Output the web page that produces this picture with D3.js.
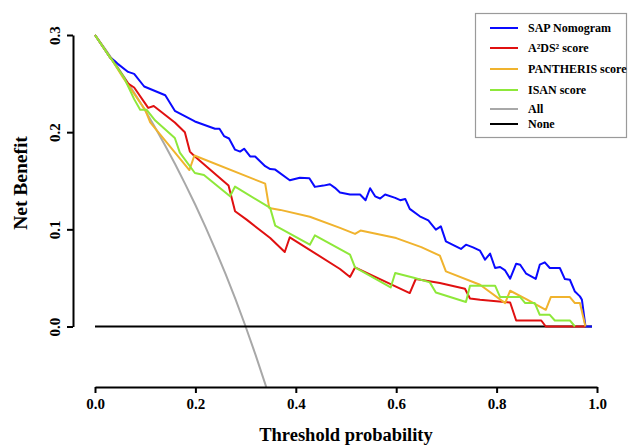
<!DOCTYPE html>
<html>
<head>
<meta charset="utf-8">
<script src="https://cdn.jsdelivr.net/npm/d3@7"></script>
<style>
html,body{margin:0;padding:0;background:#fff;}
svg{display:block;}
svg text{font-family:"Liberation Serif","Times New Roman",serif;font-weight:bold;}
</style>
</head>
<body>
<svg id="chart" width="636" height="445"></svg>
<script>
// ---- data ----
const seriesNames = ["SAP Nomogram", "A²DS² score", "PANTHERIS score", "ISAN score", "All", "None"];
const seriesColors = ["#0a0aff", "#e01010", "#f0b32e", "#8ee83a", "#a8a8a8", "#000000"];

const sapT  = [0,0.03,0.04,0.046,0.066,0.078,0.098,0.14,0.159,0.199,0.239,0.248,0.257,0.267,0.279,0.289,0.297,0.309,0.319,0.339,0.349,0.359,0.388,0.408,0.427,0.438,0.455,0.468,0.478,0.488,0.508,0.528,0.539,0.548,0.558,0.568,0.578,0.598,0.608,0.618,0.627,0.647,0.664,0.679,0.689,0.699,0.729,0.739,0.753,0.767,0.777,0.787,0.797,0.807,0.817,0.827,0.839,0.847,0.859,0.878,0.886,0.896,0.906,0.926,0.936,0.946,0.956,0.966,0.97,0.977,0.99];
const sapNB = [0.3,0.277,0.273,0.270,0.262,0.26,0.247,0.238,0.222,0.211,0.2035,0.2035,0.196,0.1935,0.182,0.180,0.183,0.175,0.175,0.165,0.162,0.1615,0.1505,0.153,0.1526,0.1437,0.145,0.1464,0.1427,0.138,0.1358,0.1358,0.130,0.1423,0.134,0.1317,0.1358,0.1324,0.130,0.1313,0.121,0.1134,0.1093,0.0997,0.103,0.0876,0.0798,0.0842,0.0814,0.078,0.0688,0.075,0.0602,0.0612,0.0577,0.0492,0.0646,0.0636,0.0543,0.049,0.0636,0.066,0.0602,0.0602,0.0488,0.0481,0.036,0.031,0.0275,0,0];

const a2dsT  = [0,0.03,0.033,0.066,0.078,0.106,0.117,0.159,0.179,0.189,0.199,0.266,0.279,0.302,0.349,0.378,0.388,0.488,0.508,0.518,0.627,0.639,0.687,0.737,0.747,0.767,0.827,0.839,0.889,0.898,0.977];
const a2dsNB = [0.3,0.277,0.275,0.25,0.246,0.225,0.227,0.21,0.2,0.18,0.175,0.145,0.1186,0.11,0.091,0.0767,0.0918,0.0592,0.051,0.0608,0.0344,0.0489,0.0447,0.0389,0.0289,0.0275,0.0247,0.0062,0.0062,0,0];

const panT  = [0,0.03,0.033,0.056,0.1,0.11,0.188,0.198,0.339,0.347,0.369,0.428,0.488,0.518,0.529,0.6,0.65,0.687,0.699,0.767,0.817,0.827,0.86,0.898,0.908,0.946,0.956,0.966,0.977];
const panNB = [0.3,0.277,0.275,0.256,0.223,0.21,0.161,0.176,0.147,0.122,0.12,0.113,0.1015,0.0953,0.0987,0.091,0.0817,0.0729,0.0567,0.043,0.0241,0.0368,0.028,0.0172,0.0303,0.0303,0.0241,0.0241,0];

const isanT  = [0,0.03,0.033,0.058,0.078,0.09,0.103,0.12,0.159,0.169,0.199,0.217,0.269,0.279,0.349,0.359,0.428,0.438,0.508,0.518,0.589,0.598,0.637,0.667,0.679,0.739,0.747,0.797,0.807,0.847,0.857,0.876,0.886,0.906,0.916,0.946,0.956];
const isanNB = [0.3,0.277,0.275,0.256,0.234,0.223,0.223,0.212,0.194,0.179,0.158,0.156,0.134,0.144,0.122,0.1038,0.0842,0.0938,0.0739,0.0608,0.0402,0.055,0.0499,0.0454,0.035,0.0252,0.042,0.042,0.0303,0.0303,0.0241,0.0241,0.012,0.012,0.0062,0.0062,0];

const allT  = [0,0.02,0.04,0.06,0.08,0.10,0.12,0.14,0.16,0.18,0.20,0.22,0.24,0.26,0.28,0.30,0.32,0.34,0.35];
const allNB = [0.3,0.2857,0.2708,0.2553,0.2391,0.2222,0.2045,0.1860,0.1667,0.1463,0.125,0.1026,0.0789,0.0541,0.0278,0,-0.0294,-0.0606,-0.0769];

const noneT  = [0,0.99];
const noneNB = [0,0];

const xTicks = [0,0.2,0.4,0.6,0.8,1.0];
const yTicks = [0,0.1,0.2,0.3];

// ---- drawing ----
const FONT = "Liberation Serif";
const svg = d3.select("#chart");
const x = d3.scaleLinear().domain([0,1]).range([95,597]);
const y = d3.scaleLinear().domain([0,0.3]).range([326.5,35]);

svg.append("defs").append("clipPath").attr("id","plotclip")
  .append("rect").attr("x",75).attr("y",20).attr("width",545).attr("height",367);

const line = d3.line().x(d=>x(d[0])).y(d=>y(d[1]));
const zip = (a,b)=>a.map((v,i)=>[v,b[i]]);

const drawOrder = [
  [allT, allNB, 4],
  [noneT, noneNB, 5],
  [sapT, sapNB, 0],
  [a2dsT, a2dsNB, 1],
  [panT, panNB, 2],
  [isanT, isanNB, 3]
];
const g = svg.append("g").attr("clip-path","url(#plotclip)");
drawOrder.forEach(([t,nb,ci])=>{
  g.append("path").datum(zip(t,nb))
    .attr("d", line)
    .attr("fill","none")
    .attr("stroke", seriesColors[ci])
    .attr("stroke-width", 2)
    .attr("stroke-linejoin","round");
});

// x axis
const xAxis = svg.append("g").attr("transform","translate(0,387)")
  .call(d3.axisBottom(x).tickValues(xTicks).tickFormat(d3.format(".1f")).tickSize(6).tickSizeOuter(0));
xAxis.attr("font-family",FONT);
xAxis.selectAll("path,line").attr("stroke","#000").attr("stroke-width",2);
xAxis.selectAll("text").attr("font-family",FONT).attr("font-weight","bold")
  .attr("font-size",15).attr("fill","#000").attr("y",11).attr("dy","0.71em");

// y axis
const yAxis = svg.append("g").attr("transform","translate(73,0)")
  .call(d3.axisLeft(y).tickValues(yTicks).tickFormat(d3.format(".1f")).tickSize(6).tickSizeOuter(0));
yAxis.attr("font-family",FONT);
yAxis.selectAll("path,line").attr("stroke","#000").attr("stroke-width",2);
yAxis.selectAll("text").attr("font-family",FONT).attr("font-weight","bold")
  .attr("font-size",15).attr("fill","#000")
  .attr("x",null).attr("dy",null).attr("y",0)
  .attr("text-anchor","middle")
  .attr("transform","translate(-13,0) rotate(-90)");

// axis titles
svg.append("text").attr("x",346).attr("y",441).attr("text-anchor","middle")
  .attr("font-family",FONT).attr("font-weight","bold")
  .attr("font-size",18.5).text("Threshold probability");
svg.append("text").attr("transform","translate(27,183) rotate(-90)").attr("text-anchor","middle")
  .attr("font-family",FONT).attr("font-weight","bold")
  .attr("font-size",19.5).text("Net Benefit");

// legend
const leg = svg.append("g");
leg.append("rect").attr("x",475.5).attr("y",13.5).attr("width",151).attr("height",124)
  .attr("fill","#fff").attr("stroke","#9a9a9a").attr("stroke-width",1.2);
const legY = [28,48,69,90,109,124];
seriesNames.forEach((name,i)=>{
  leg.append("line").attr("x1",490).attr("x2",518).attr("y1",legY[i]).attr("y2",legY[i])
    .attr("stroke",seriesColors[i]).attr("stroke-width",2);
  leg.append("text").attr("x",528).attr("y",legY[i]).attr("dy","0.35em")
    .attr("font-family",FONT).attr("font-weight","bold")
    .attr("font-size",12).text(name);
});
</script>
</body>
</html>
